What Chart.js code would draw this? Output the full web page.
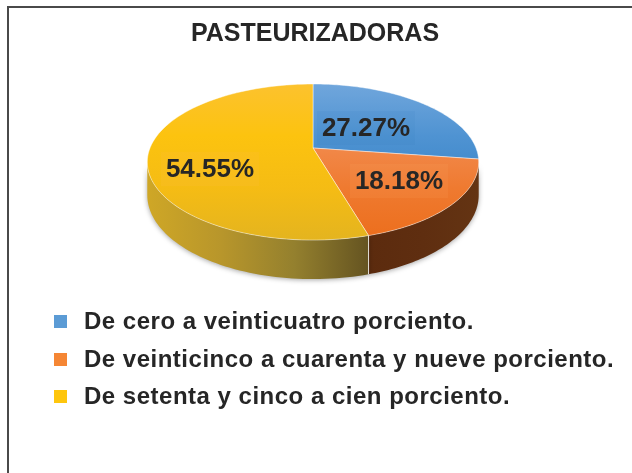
<!DOCTYPE html>
<html>
<head>
<meta charset="utf-8">
<script src="https://cdn.jsdelivr.net/npm/chart.js@4"></script>
<style>
  html, body { margin: 0; background: #fff; }
  #wrap { position: relative; width: 632px; height: 473px; overflow: hidden; }
  #frame { position: absolute; left: 7px; top: 6px; right: -4px; bottom: -4px; border-left: 2px solid #4a4a4a; border-top: 2px solid #4a4a4a; }
  canvas { position: absolute; left: 0; top: 0; }
  #legend { position: absolute; left: 54px; top: 302px; font: bold 24px "Liberation Sans", Arial, sans-serif; letter-spacing: 0.5px; color: #262626; }
  #legend div { height: 37.5px; line-height: 37.5px; white-space: nowrap; position: relative; padding-left: 30px; }
  #legend i { position: absolute; left: 0; top: 13px; width: 13px; height: 13px; }
</style>
</head>
<body>
<div id="wrap">
  <div id="frame"></div>
  <canvas id="chart" width="632" height="473"></canvas>
  <div id="legend"></div>
</div>
<script>
const categories = [
    'De cero a veinticuatro porciento.',
    'De veinticinco a cuarenta y nueve porciento.',
    'De setenta y cinco a cien porciento.'
];
const percentages = [27.27, 18.18, 54.55];
const legendColors = ['#5b9bd5', '#f58634', '#fec60d'];

// tilted disc: apex, radii and perspective
const CX = 313, CY = 148, A = 163, B = 75.5, K = 0.18, DEPTH = 32;

function rim(angle, drop) {
    // angle is chart.js radians, -PI/2 is twelve o'clock
    const u = Math.cos(angle), v = Math.sin(angle), w = 1 - K * v;
    return [CX + A * u / w, CY + (B * v + (drop || 0)) / w];
}

function vGrad(ctx, stops) {
    const g = ctx.createLinearGradient(0, 84, 0, 240);
    stops.forEach((c, i) => g.addColorStop(i / (stops.length - 1), c));
    return g;
}

function hGrad(ctx, x0, x1, stops) {
    const g = ctx.createLinearGradient(x0, 0, x1, 0);
    stops.forEach((c, i) => g.addColorStop(i / (stops.length - 1), c));
    return g;
}

const labelSpots = [[366, 128, 'rgba(40,110,180,0.08)'], [399, 181, 'rgba(255,170,110,0.12)'], [210, 169, 'rgba(255,190,60,0.2)']];

const tiltedPie = {
    id: 'tiltedPie',
    beforeDatasetDraw(chart) {
        const ctx = chart.ctx;
        const arcs = chart.getDatasetMeta(0).data;
        const front0 = Math.asin(K), front1 = Math.PI - Math.asin(K);
        const walls = [
            null,
            hGrad(ctx, 368, 478, ['#5c2b0e', '#5f2e10', '#643413']),
            hGrad(ctx, 147, 368, ['#cfa726', '#b8962b', '#94802e', '#655421'])
        ];
        const tops = [
            vGrad(ctx, ['#70a6dc', '#4f93d2', '#3a85c8', '#3a85c8']),
            vGrad(ctx, ['#f28c50', '#f28c50', '#ef7a30', '#ec6e1c']),
            vGrad(ctx, ['#fcc22e', '#fcc30f', '#f5bc14', '#e4b41f'])
        ];

        // side wall first, soft shadow under it
        ctx.save();
        ctx.shadowColor = 'rgba(0,0,0,0.35)';
        ctx.shadowBlur = 5;
        ctx.shadowOffsetY = 1;
        arcs.forEach((arc, i) => {
            if (!walls[i]) return;
            const a0 = Math.max(arc.startAngle, front0), a1 = Math.min(arc.endAngle, front1);
            if (a1 <= a0) return;
            ctx.beginPath();
            for (let t = 0; t <= 60; t++) {
                const p = rim(a0 + (a1 - a0) * t / 60, 0);
                t ? ctx.lineTo(p[0], p[1]) : ctx.moveTo(p[0], p[1]);
            }
            for (let t = 60; t >= 0; t--) {
                const p = rim(a0 + (a1 - a0) * t / 60, DEPTH);
                ctx.lineTo(p[0], p[1]);
            }
            ctx.closePath();
            ctx.fillStyle = walls[i];
            ctx.fill();
        });
        ctx.restore();

        // seam between the two wall colours
        const seam = arcs[1].endAngle;
        ctx.strokeStyle = 'rgba(255,255,255,0.8)';
        ctx.lineWidth = 1;
        ctx.beginPath();
        ctx.moveTo(...rim(seam, 0));
        ctx.lineTo(...rim(seam, DEPTH));
        ctx.stroke();

        // top face
        arcs.forEach((arc, i) => {
            ctx.beginPath();
            ctx.moveTo(CX, CY);
            for (let t = 0; t <= 90; t++) {
                const p = rim(arc.startAngle + (arc.endAngle - arc.startAngle) * t / 90, 0);
                ctx.lineTo(p[0], p[1]);
            }
            ctx.closePath();
            ctx.fillStyle = tops[i];
            ctx.fill();
            ctx.strokeStyle = 'rgba(255,255,255,0.55)';
            ctx.lineWidth = 0.8;
            ctx.stroke();
        });

        // value labels
        ctx.font = 'bold 26px "Liberation Sans", Arial, sans-serif';
        ctx.textAlign = 'center';
        ctx.textBaseline = 'middle';
        arcs.forEach((arc, i) => {
            const s = labelSpots[i];
            ctx.fillStyle = s[2];
            ctx.fillRect(s[0] - 49, s[1] - 17, 98, 34);
            ctx.fillStyle = '#262626';
            ctx.fillText(percentages[i].toFixed(2) + '%', s[0], s[1] + 1);
        });
        return false;
    }
};

new Chart(document.getElementById('chart'), {
    type: 'pie',
    data: {
        labels: categories,
        datasets: [{ data: percentages, backgroundColor: legendColors, borderWidth: 0 }]
    },
    options: {
        responsive: false,
        animation: false,
        layout: { padding: { right: 2, top: 6 } },
        plugins: {
            legend: { display: false },
            tooltip: { enabled: false },
            title: {
                display: true,
                text: 'PASTEURIZADORAS',
                color: '#262626',
                font: { family: '"Liberation Sans", Arial, sans-serif', size: 25, weight: 'bold' },
                padding: { top: 13, bottom: 10 }
            }
        }
    },
    plugins: [tiltedPie]
});

document.getElementById('legend').innerHTML = categories.map((c, i) =>
    `<div><i style="background:${legendColors[i]}"></i>${c}</div>`).join('');
</script>
</body>
</html>
